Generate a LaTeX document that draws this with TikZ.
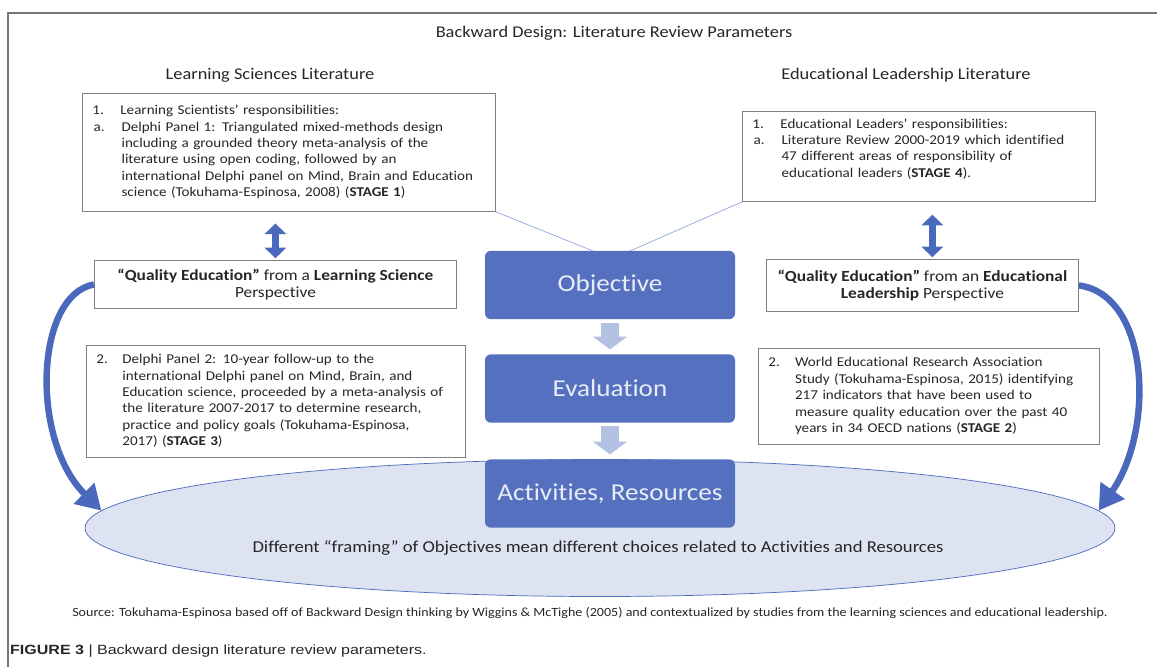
\documentclass[tikz,border=0pt]{standalone}
\usepackage{fontspec}
\setmainfont{Carlito}[FakeStretch=1.12, Ligatures=NoCommon]
\newfontfamily\captionfont{Liberation Sans}[FakeStretch=1.2]
\usetikzlibrary{arrows.meta,shapes.geometric}

\definecolor{stepblue}{HTML}{5470BF}
\definecolor{steptext}{HTML}{E8ECF6}
\definecolor{paleblue}{HTML}{B3C1E3}
\definecolor{ovalfill}{HTML}{DDE3F1}
\definecolor{arrowblue}{HTML}{4A69BC}
\definecolor{linkblue}{HTML}{8EA6DA}
\definecolor{boxgray}{HTML}{808080}
\definecolor{framegray}{HTML}{777777}
\definecolor{inkgray}{HTML}{262626}

\tikzset{
  box/.style={draw=boxgray, line width=0.7pt, fill=white, anchor=north west,
    inner xsep=0.3cm, inner ysep=0pt, align=left, text=inkgray,
    font=\fontsize{11.5}{14}\selectfont},
  qbox/.style={draw=boxgray, line width=0.7pt, fill=white, anchor=north west,
    align=center, text=inkgray, font=\fontsize{13.2}{14.5}\selectfont},
  stepbox/.style={fill=stepblue, rounded corners=5pt, minimum width=7.5cm,
    minimum height=2.05cm, text=steptext, font=\fontsize{20.7}{25}\selectfont},
  steparrow/.style={draw=paleblue, line width=16pt, -{Triangle[length=11pt,width=29pt]}},
  dblarrow/.style={draw=arrowblue, line width=6pt,
    {Triangle[length=9pt,width=18pt]}-{Triangle[length=9pt,width=18pt]}},
  loopback/.style={draw=arrowblue, line width=5.5pt, -{Triangle[length=21pt,width=24pt]}},
  link/.style={draw=linkblue, line width=0.6pt},
  head/.style={text=inkgray, font=\fontsize{14}{17}\selectfont}
}

\begin{document}
\begin{tikzpicture}[x=0.03cm, y=-0.03cm]
    \useasboundingbox (0,0) rectangle (1157,666);

    % Frame
    \draw[framegray, line width=1.6pt] (1160,13) -- (8,13) -- (8,670);

    % Titles
    \node[head] (title) at (614,33) {Backward Design: Literature Review Parameters};
    \node[head] (lshead) at (270,75) {Learning Sciences Literature};
    \node[head] (elhead) at (906,75) {Educational Leadership Literature};

    % Learning sciences side
    \node[box, text width=11.79cm, minimum height=3.54cm] (ls1) at (82,93) {%
        \begin{tabular}{@{}p{0.84cm}@{}l@{}}
        1. & Learning Scientists’ responsibilities:\\
        \hspace{1pt}a. & \hspace{1pt}Delphi Panel 1: Triangulated mixed-methods design\\
           & \hspace{1pt}including a grounded theory meta-analysis of the\\
           & \hspace{1pt}literature using open coding, followed by an\\
           & \hspace{1pt}international Delphi panel on Mind, Brain and Education\\
           & \hspace{1pt}science (Tokuhama-Espinosa, 2008) (\textbf{STAGE 1})
        \end{tabular}};
    \node[qbox, minimum width=10.86cm, minimum height=1.44cm] (qls) at (94,260)
        {\textbf{“Quality Education”} from a \textbf{Learning Science}\\Perspective};
    \node[box, text width=10.77cm, minimum height=3.36cm] (ls2) at (86,345) {%
        \begin{tabular}{@{}p{0.78cm}@{}l@{}}
        2. & Delphi Panel 2: 10-year follow-up to the\\
           & international Delphi panel on Mind, Brain, and\\
           & Education science, proceeded by a meta-analysis of\\
           & the literature 2007-2017 to determine research,\\
           & practice and policy goals (Tokuhama-Espinosa,\\
           & 2017) (\textbf{STAGE 3})
        \end{tabular}};

    % Educational leadership side
    \node[box, text width=9.99cm, minimum height=2.70cm] (el1) at (742,111) {%
        \begin{tabular}{@{}p{0.84cm}@{}l@{}}
        1. & Educational Leaders’ responsibilities:\\
        \hspace{1pt}a. & \hspace{1pt}Literature Review 2000-2019 which identified\\
           & \hspace{1pt}47 different areas of responsibility of\\
           & \hspace{1pt}educational leaders (\textbf{STAGE 4}).\\[12pt]
        \end{tabular}};
    \node[qbox, minimum width=9.36cm, minimum height=1.56cm] (qel) at (766,259)
        {\textbf{“Quality Education”} from an \textbf{Educational}\\\textbf{Leadership} Perspective};
    \node[box, text width=9.63cm, minimum height=2.88cm] (el2) at (758,348) {%
        \begin{tabular}{@{}p{0.80cm}@{}l@{}}
        2. & World Educational Research Association\\
           & Study (Tokuhama-Espinosa, 2015) identifying\\
           & 217 indicators that have been used to\\
           & measure quality education over the past 40\\
           & years in 34 OECD nations (\textbf{STAGE 2})
        \end{tabular}};

    % Oval at the bottom
    \node[ellipse, draw=arrowblue, fill=ovalfill, line width=0.6pt,
          minimum width=30.9cm, minimum height=4.11cm] (base) at (600,528) {};
    \node[text=inkgray, font=\fontsize{14.2}{17}\selectfont] (framing) at (598,548)
        {Different “framing” of Objectives mean different choices related to Activities and Resources};

    % Backward design steps
    \draw[link] (ls1.south east) -- ([xshift=-14.5pt]610,251);
    \draw[link] (el1.south west) -- ([xshift=17pt]610,251);
    \node[stepbox] (obj) at (610,285) {Objective};
    \node[stepbox] (eval) at (610,388.5) {Evaluation};
    \node[stepbox] (act) at (610,493.5) {Activities, Resources};
    \draw[steparrow, shorten <=3pt, shorten >=4pt] (obj) -- (eval);
    \draw[steparrow, shorten <=3pt, shorten >=4pt] (eval) -- (act);

    % Links between the boxes
    \draw[dblarrow, shorten <=10pt, shorten >=1.5pt] (qls.north |- ls1.south) -- (qls.north);
    \draw[dblarrow, shorten <=11pt, shorten >=1.5pt] ([xshift=8.5pt]qel.north |- el1.south) -- ([xshift=8.5pt]qel.north);
    \draw[loopback] (qls.west) .. controls (35,295) and (30,440) .. (base.178.7);
    \draw[loopback] (qel.east) .. controls (1150,295) and (1155,430) .. (base.2.5);

    % Source and caption
    \node[text=inkgray, font=\fontsize{10.7}{12}\selectfont] (source) at (590,613)
        {Source: Tokuhama-Espinosa based off of Backward Design thinking by Wiggins \& McTighe (2005) and contextualized by studies from the learning sciences and educational leadership.};
    \node[anchor=west, text=inkgray, font=\captionfont\fontsize{11.4}{13}\selectfont] (caption) at (6,651)
        {\textbf{FIGURE 3} | Backward design literature review parameters.};
\end{tikzpicture}
\end{document}
